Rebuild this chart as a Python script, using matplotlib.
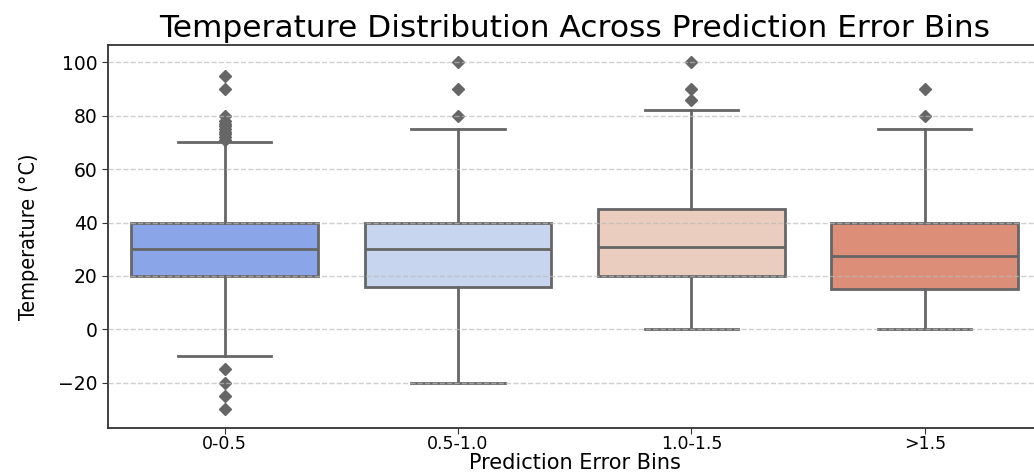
import colorsys
import numpy as np
import matplotlib
matplotlib.use("Agg")
from matplotlib import pyplot as plt

# values
bins = ['0-0.5', '0.5-1.0', '1.0-1.5', '>1.5']
q1 = [20, 16, 20, 15]
medians = [30, 30, 31, 27.5]
q3 = [40, 40, 45, 40]
whis_lo = [-10, -20, 0, 0]
whis_hi = [70, 75, 82, 75]
fliers = [
	[95, 90, 80, 78, 77, 76, 75, 74, 73, 72, 71, -15, -20, -25, -30],
	[100, 90, 80],
	[100, 90, 86],
	[90, 80],
]

def desat(c, prop=0.75):
	h, l, s = colorsys.rgb_to_hls(*c[:3])
	return colorsys.hls_to_rgb(h, l, s * prop)

cmap = plt.get_cmap('coolwarm')
colors = [desat(cmap(v)) for v in np.linspace(0, 1, len(bins) + 2)[1:-1]]

stats = []
for i in range(len(bins)):
	stats.append(dict(med=medians[i], q1=q1[i], q3=q3[i],
		whislo=whis_lo[i], whishi=whis_hi[i], fliers=fliers[i], label=bins[i]))

gray = '#666666'
fig = plt.figure(figsize=(10.34, 4.73), dpi=100)
ax = fig.add_axes([0.1044, 0.0951, 0.9028, 0.8097])

bp = ax.bxp(stats, positions=range(len(bins)), widths=0.8, patch_artist=True,
	boxprops=dict(edgecolor=gray, linewidth=2),
	medianprops=dict(color=gray, linewidth=2),
	whiskerprops=dict(color=gray, linewidth=2),
	capprops=dict(color=gray, linewidth=2),
	flierprops=dict(marker='D', markersize=6.5, markerfacecolor=gray,
		markeredgecolor=gray))
for patch, c in zip(bp['boxes'], colors):
	patch.set_facecolor(c)

ax.set_xlim(-0.5, 3.5)
ax.set_ylim(-37, 106.5)
ax.set_yticks([-20, 0, 20, 40, 60, 80, 100])
ax.yaxis.grid(True, linestyle='--', color='#bbbbbb', alpha=0.7, linewidth=1, zorder=5)
ax.set_axisbelow(False)

ax.tick_params(axis='y', labelsize=13.5, length=4, color='#333333')
ax.tick_params(axis='x', labelsize=12.5, length=4, color='#333333', pad=1)
for s in ax.spines.values():
	s.set_color('#333333')
	s.set_linewidth(1.3)

ax.set_title('Temperature Distribution Across Prediction Error Bins', fontsize=22.5, pad=6)
ax.set_xlabel('Prediction Error Bins', fontsize=15, labelpad=0)
ax.set_ylabel('Temperature (°C)', fontsize=15.5, fontstretch='condensed', labelpad=14)

fig.savefig('out.png', dpi=100)
